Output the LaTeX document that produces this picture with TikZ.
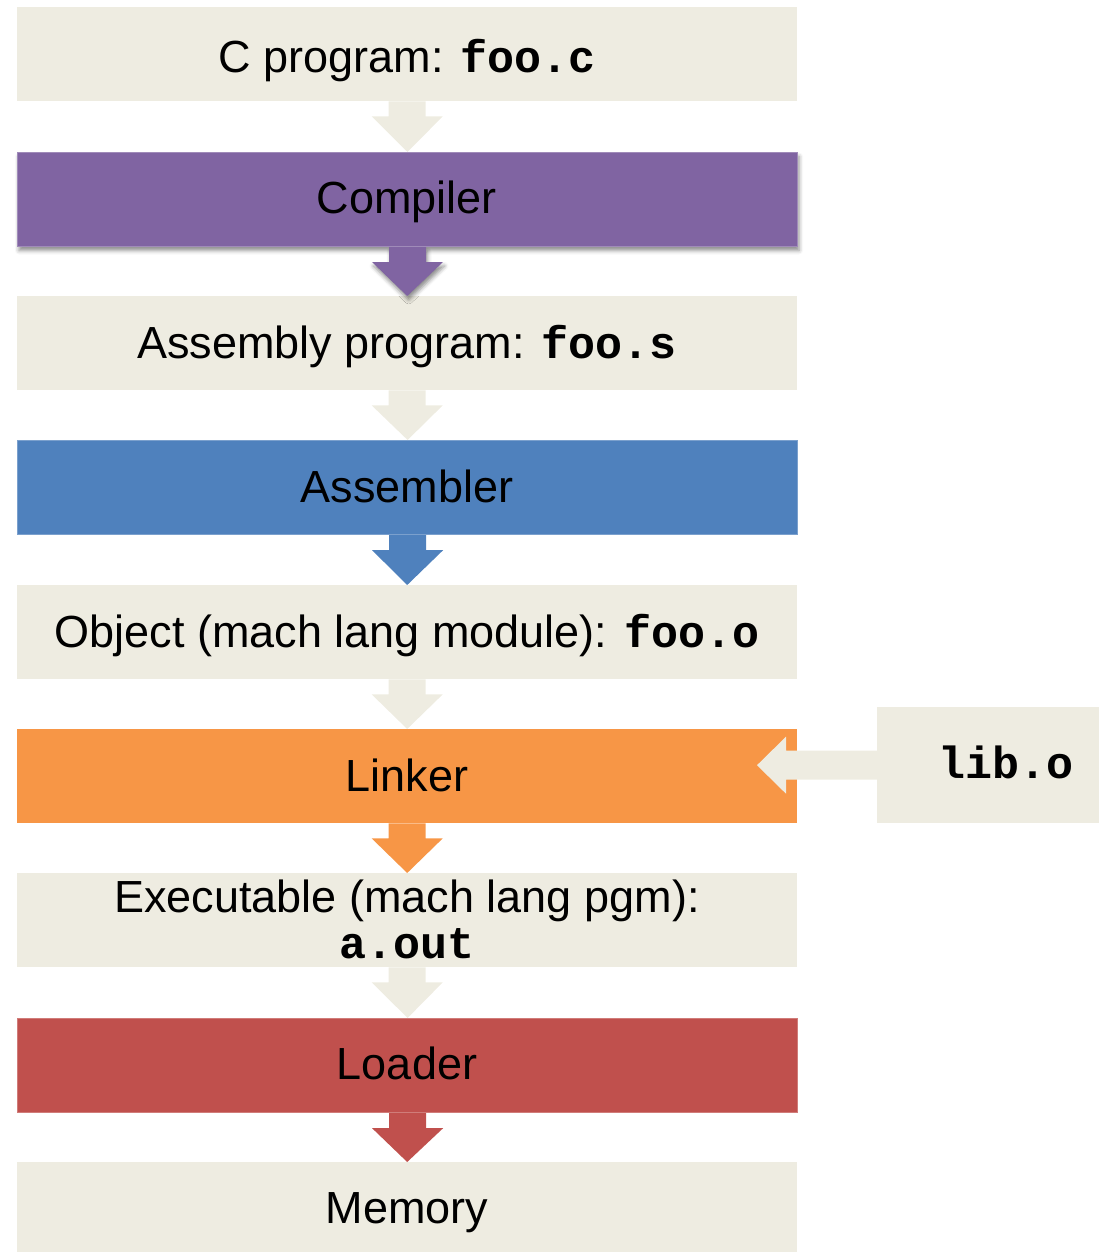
\documentclass[tikz,border=0pt]{standalone}
\usepackage{fontspec}
\setmainfont{Liberation Sans}
\newfontfamily\codefont{Liberation Mono}
\usetikzlibrary{calc,shadows.blur}

\definecolor{stagebg}{HTML}{EEECE1}
\definecolor{compcol}{HTML}{8064A2}
\definecolor{asmcol}{HTML}{4F81BD}
\definecolor{linkcol}{HTML}{F79646}
\definecolor{loadcol}{HTML}{C0504D}

\newcommand{\code}[1]{{\codefont\bfseries #1}}

% block arrow pointing down from one stage box to the next
\newcommand{\flowarrow}[3]{%
  \fill[#3,#1shadow] ($(#1.south)+(-18.5,0)$) -- ($(#1.south)+(-18.5,15)$)
    -- ($(#1.south)+(-35.5,15)$) -- (#2.north)
    -- ($(#1.south)+(35.5,15)$) -- ($(#1.south)+(18.5,15)$)
    -- ($(#1.south)+(18.5,0)$) -- cycle;}

\begin{document}
\begin{tikzpicture}[x=1pt,y=-1pt,
  stagebox/.style={minimum width=780pt, minimum height=94pt, inner sep=0pt,
    anchor=north west},
  lbl/.style={anchor=base, font=\fontsize{45}{48}\selectfont, inner sep=0pt},
  b1shadow/.style={}, b3shadow/.style={}, b4shadow/.style={}, b5shadow/.style={},
  b6shadow/.style={}, b7shadow/.style={}, b8shadow/.style={},
  b2shadow/.style={blur shadow={shadow xshift=1.5pt, shadow yshift=-4pt,
    shadow blur radius=4pt, shadow opacity=45}},
]
\useasboundingbox (0,0) rectangle (1099,1252);

% stage boxes
\node[stagebox, fill=stagebg] (b1) at (17,7) {};
\node[stagebox, fill=compcol, draw=compcol!75!white, line width=1pt, b2shadow] (b2) at (17,152) {};
\node[stagebox, fill=stagebg] (b3) at (17,296) {};
\node[stagebox, fill=asmcol, draw=asmcol!75!white, line width=1.2pt] (b4) at (17,440) {};
\node[stagebox, fill=stagebg] (b5) at (17,585) {};
\node[stagebox, fill=linkcol] (b6) at (17,729) {};
\node[stagebox, fill=stagebg] (b7) at (17,873) {};
\node[stagebox, fill=loadcol, draw=loadcol!75!white, line width=1.2pt] (b8) at (17,1018) {};
\node[stagebox, fill=stagebg, minimum height=90pt] (b9) at (17,1162) {};

% library input box
\node[fill=stagebg, minimum width=222pt, minimum height=116pt, inner sep=0pt,
  anchor=north west] (lib) at (877,707) {};

% arrows between stages
\flowarrow{b1}{b2}{stagebg}
\flowarrow{b2}{b3}{compcol}
\flowarrow{b3}{b4}{stagebg}
\flowarrow{b4}{b5}{asmcol}
\flowarrow{b5}{b6}{stagebg}
\flowarrow{b6}{b7}{linkcol}
\flowarrow{b7}{b8}{stagebg}
\flowarrow{b8}{b9}{loadcol}

% library arrow into the linker
\coordinate (libtip) at ($(lib.west)+(-120,0)$);
\fill[stagebg] ($(lib.west)+(0,-14.5)$) -- ($(lib.west)+(-91,-14.5)$)
  -- ($(lib.west)+(-91,-28.5)$) -- (libtip)
  -- ($(lib.west)+(-91,28.5)$) -- ($(lib.west)+(-91,14.5)$)
  -- ($(lib.west)+(0,14.5)$) -- cycle;

% labels
\node[lbl] (t1) at (407,73) {C program: \code{foo.c}};
\node[lbl] (t2) at (407,213) {Compiler};
\node[lbl] (t3) at (407,358) {Assembly program: \code{foo.s}};
\node[lbl] (t4) at (407,502) {Assembler};
\node[lbl] (t5) at (407,647) {Object (mach lang module): \code{foo.o}};
\node[lbl] (t6) at (407,791) {Linker};
\node[align=center, font=\fontsize{45}{46}\selectfont, inner sep=0pt] (t7)
  at (407,919) {Executable (mach lang pgm):\\\code{a.out}};
\node[lbl] (t8) at (407,1079) {Loader};
\node[lbl] (t9) at (407,1223) {Memory};
\node[lbl] (t10) at (1006,778) {\code{lib.o}};
\end{tikzpicture}
\end{document}
